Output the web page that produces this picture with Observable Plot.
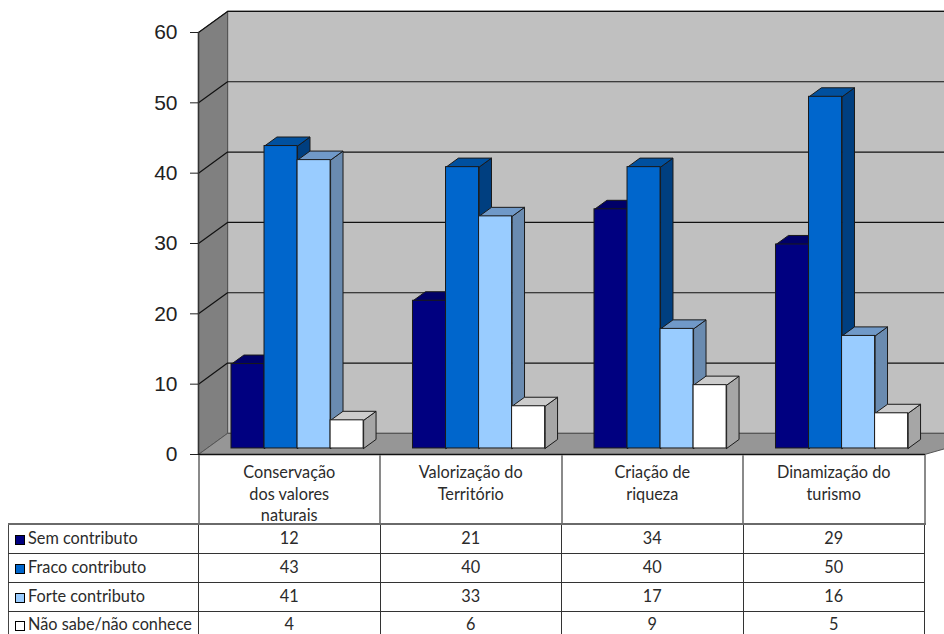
<!DOCTYPE html>
<html lang="pt">
<head>
<meta charset="utf-8">
<title>Contributo por domínio</title>
<script src="https://cdn.jsdelivr.net/npm/d3@7"></script>
<script src="https://cdn.jsdelivr.net/npm/@observablehq/plot@0.6"></script>
<style>
  html, body { margin: 0; padding: 0; background: #fff; overflow: hidden; width: 944px; height: 634px; }
  #chart svg { display: block; overflow: hidden; }
  table { border-collapse: collapse; table-layout: fixed; width: 916px; margin: -15px 0 0 8px; position: relative;
          font-family: Lato, "Open Sans", sans-serif; font-size: 16.3px; color: #2b2b2b; }
  td { padding: 0; text-align: center; overflow: hidden; white-space: nowrap; }
  tr.head td { height: 68px; vertical-align: top; line-height: 21.5px;
               border-left: 2px solid #8a8a8a; border-right: 2px solid #8a8a8a; border-bottom: 2px solid #6a6a6a; white-space: normal; }
  tr.head td div { height: 68px; box-sizing: border-box; padding-top: 6px; overflow: visible; }
  tr.head td.blank { border-left: none; border-top: none; }
  tr.row td { height: 24px; padding-bottom: 4px; border: 1px solid #333; }
  tr.row td.name { text-align: left; padding-left: 6px; border-left: 1.5px solid #444; }
  tr.row td.num { border-left-color: #666; }
  tr.row.last td { height: 20px; line-height: 20px; padding-top: 2px; padding-bottom: 0; border-bottom: none; }
  .swatch { display: inline-block; width: 8px; height: 8px; border: 1.5px solid #000; margin-right: 3px; vertical-align: -1px; }
</style>
</head>
<body>
<div id="chart"></div>
<div id="table"></div>
<script>
const categories = ["Conservação dos valores naturais", "Valorização do Território", "Criação de riqueza", "Dinamização do turismo"];
const headerLines = [["Conservação", "dos valores", "naturais"], ["Valorização do", "Território"], ["Criação de", "riqueza"], ["Dinamização do", "turismo"]];
const seriesNames = ["Sem contributo", "Fraco contributo", "Forte contributo", "Não sabe/não conhece"];
const semContributo = [12, 21, 34, 29];
const fracoContributo = [43, 40, 40, 50];
const forteContributo = [41, 33, 17, 16];
const naoSabe = [4, 6, 9, 5];
const seriesValues = [semContributo, fracoContributo, forteContributo, naoSabe];
const frontColors = ["#000080", "#0066cc", "#99ccff", "#ffffff"];
const topColors = ["#000068", "#00509f", "#7099c8", "#cccccc"];
const sideColors = ["#00005c", "#003f80", "#6a8bb0", "#a6a6a6"];
const yTicks = [0, 10, 20, 30, 40, 50, 60];

// Oblique projection: depth d in [0, 1] shifts a point right and up in data units.
const depthX = 0.16;
const depthY = 3;
const project = (x, y, d = 0) => ({x: x + d * depthX, y: y + d * depthY});
const poly = (...pts) => [...pts, pts[0]].map(([x, y, d]) => project(x, y, d));

const xEnd = 4.25;
const yTop = 60;
const leftWall = poly([0, 0, 0], [0, 0, 1], [0, yTop, 1], [0, yTop, 0]);
const backWall = poly([0, 0, 1], [xEnd, 0, 1], [xEnd, yTop, 1], [0, yTop, 1]);
const floor = poly([0, 0, 0], [4, 0, 0], [xEnd, 0, 1], [0, 0, 1]);

const gap = 0.136;
const barWidth = 0.182;
const barFront = 0.286;
const barBack = 0.714;

const polygon = (pts, fill, stroke = "#1a1a1a", strokeWidth = 1) =>
  Plot.line(pts, {x: "x", y: "y", fill, stroke, strokeWidth, strokeLinejoin: "round"});

const gridMarks = yTicks.filter(v => v > 0).map(v =>
  Plot.line([project(0, v, 0), project(0, v, 1), project(xEnd, v, 1)],
    {x: "x", y: "y", stroke: "#111", strokeWidth: 1.2}));

// Bars are painted left to right so each one overlaps the side face of the previous one.
const barMarks = categories.flatMap((_, c) => seriesValues.flatMap((values, s) => {
  const v = values[c];
  const x1 = c + gap + s * barWidth;
  const x2 = x1 + barWidth;
  const front = project(x1, 0, barFront);
  const frontEnd = project(x2, v, barFront);
  return [
    polygon(poly([x2, 0, barFront], [x2, 0, barBack], [x2, v, barBack], [x2, v, barFront]), sideColors[s]),
    polygon(poly([x1, v, barFront], [x2, v, barFront], [x2, v, barBack], [x1, v, barBack]), topColors[s]),
    Plot.rect([{x1: front.x, x2: frontEnd.x, y1: front.y, y2: frontEnd.y}],
      {x1: "x1", x2: "x2", y1: "y1", y2: "y2", fill: frontColors[s], stroke: "#1a1a1a", strokeWidth: 1})
  ];
}));

const plot = Plot.plot({
  width: 944,
  height: 470,
  marginLeft: 198,
  marginRight: 20,
  marginTop: 32,
  marginBottom: 16,
  style: {fontFamily: "Liberation Sans, Arial, sans-serif", background: "#fff"},
  x: {domain: [0, 4], axis: null},
  y: {domain: [0, 60], axis: null},
  marks: [
    polygon(backWall, "#c0c0c0", "#4a4a4a", 1.2),
    polygon(leftWall, "#808080", "#555", 1),
    polygon(floor, "#969696", "#555", 1),
    ...gridMarks,
    ...barMarks,
    Plot.line([project(0, 0), project(0, 60)], {x: "x", y: "y", stroke: "#333", strokeWidth: 1.6}),
    Plot.line([project(0, 0), project(4, 0)], {x: "x", y: "y", stroke: "#111", strokeWidth: 1.4}),
    Plot.axisY({
      ticks: yTicks, tickSize: 8, tickPadding: 13, fontSize: 21, stroke: "#222",
      fill: "#222", label: null, anchor: "left"
    })
  ]
});
document.getElementById("chart").append(plot);

// Data table beneath the chart, one row per series.
const table = document.createElement("table");
const colgroup = document.createElement("colgroup");
[190, 181.5, 181.5, 181.5, 181.5].forEach(w => {
  const col = document.createElement("col");
  col.style.width = w + "px";
  colgroup.append(col);
});
table.append(colgroup);
const head = table.insertRow();
head.className = "head";
head.insertCell().className = "blank";
headerLines.forEach(lines => {
  const box = document.createElement("div");
  box.innerHTML = lines.join("<br>");
  head.insertCell().append(box);
});
seriesNames.forEach((name, s) => {
  const tr = table.insertRow();
  tr.className = s === seriesNames.length - 1 ? "row last" : "row";
  const label = tr.insertCell();
  label.className = "name";
  const swatch = document.createElement("span");
  swatch.className = "swatch";
  swatch.style.background = frontColors[s];
  label.append(swatch, name);
  seriesValues[s].forEach(v => {
    const td = tr.insertCell();
    td.className = "num";
    td.textContent = v;
  });
});
document.getElementById("table").append(table);
</script>
</body>
</html>
